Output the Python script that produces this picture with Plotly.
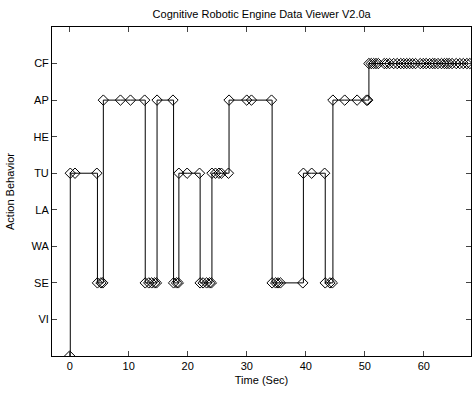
import plotly.graph_objects as go

# Behaviour labels (code 1..8)
behaviors = ["VI", "SE", "WA", "LA", "TU", "HE", "AP", "CF"]

# Time stamps (sec) and behaviour codes (0 = start, 1..8 = behaviors index+1)
times = [0, 0.1, 0.9, 4.6, 4.7, 5.3, 5.6, 5.7, 8.6, 10.3, 12.7,
         12.8, 13.4, 13.9, 14.4, 14.7, 14.8, 17.5, 17.6, 18.1, 18.4,
         18.5, 19.9, 22.0, 22.1, 22.6, 23.2, 23.7, 24.0, 24.1, 24.7,
         25.3, 25.7, 26.9, 27.0, 30.0, 30.8, 34.2, 34.3, 34.9, 35.3,
         35.7, 39.5, 39.6, 41.0, 43.2, 43.3, 44.1, 44.5, 44.6, 46.6,
         48.7, 50.3, 50.5,
         50.7, 51.1, 51.5, 51.9, 52.3, 53.3, 53.7, 54.2, 54.9, 55.5,
         56.1, 56.6, 57.1, 57.6, 58.1, 58.6, 59.4, 59.9, 60.4, 61.0,
         61.5, 61.9, 62.4, 63.0, 63.5, 63.9, 64.3, 64.8, 65.5, 66.1,
         66.7, 67.3, 67.8]
codes = [0, 5, 5, 5, 2, 2, 2, 7, 7, 7, 7,
         2, 2, 2, 2, 2, 7, 7, 2, 2, 2,
         5, 5, 5, 2, 2, 2, 2, 2, 5, 5,
         5, 5, 5, 7, 7, 7, 7, 2, 2, 2,
         2, 2, 5, 5, 5, 2, 2, 2, 7, 7,
         7, 7, 7,
         8, 8, 8, 8, 8, 8, 8, 8, 8, 8,
         8, 8, 8, 8, 8, 8, 8, 8, 8, 8,
         8, 8, 8, 8, 8, 8, 8, 8, 8, 8,
         8, 8, 8]

x_ticks = [0, 10, 20, 30, 40, 50, 60]

font = dict(family="Liberation Sans, Arial, sans-serif", size=11, color="black")

fig = go.Figure(go.Scatter(
    x=times, y=codes, mode="lines+markers",
    line=dict(color="black", width=1, shape="hv"),
    marker=dict(symbol="diamond-open", size=8, color="black",
                line=dict(width=1, color="black")),
    showlegend=False,
))

fig.update_layout(
    width=474, height=396,
    margin=dict(l=52, r=3, t=27, b=40),
    paper_bgcolor="white", plot_bgcolor="white",
    font=font,
    title=dict(text="Cognitive Robotic Engine Data Viewer V2.0a",
               x=0.552, xanchor="center", y=0.965, yanchor="middle",
               font=dict(size=11, color="black",
                         family="Liberation Sans, Arial, sans-serif")),
)
fig.update_xaxes(
    range=[-3, 68], tickvals=x_ticks, ticks="inside", ticklen=5,
    showline=True, linecolor="black", linewidth=1, mirror="ticks",
    showgrid=False, zeroline=False,
    title=dict(text="Time (Sec)", standoff=5, font=font),
    tickfont=font,
)
fig.update_yaxes(
    range=[0, 9], tickvals=list(range(1, len(behaviors) + 1)),
    ticktext=behaviors, ticks="inside", ticklen=5,
    showline=True, linecolor="black", linewidth=1, mirror="ticks",
    showgrid=False, zeroline=False,
    title=dict(text="Action Behavior", standoff=14, font=font),
    tickfont=font,
)

fig.write_html("out.html")
